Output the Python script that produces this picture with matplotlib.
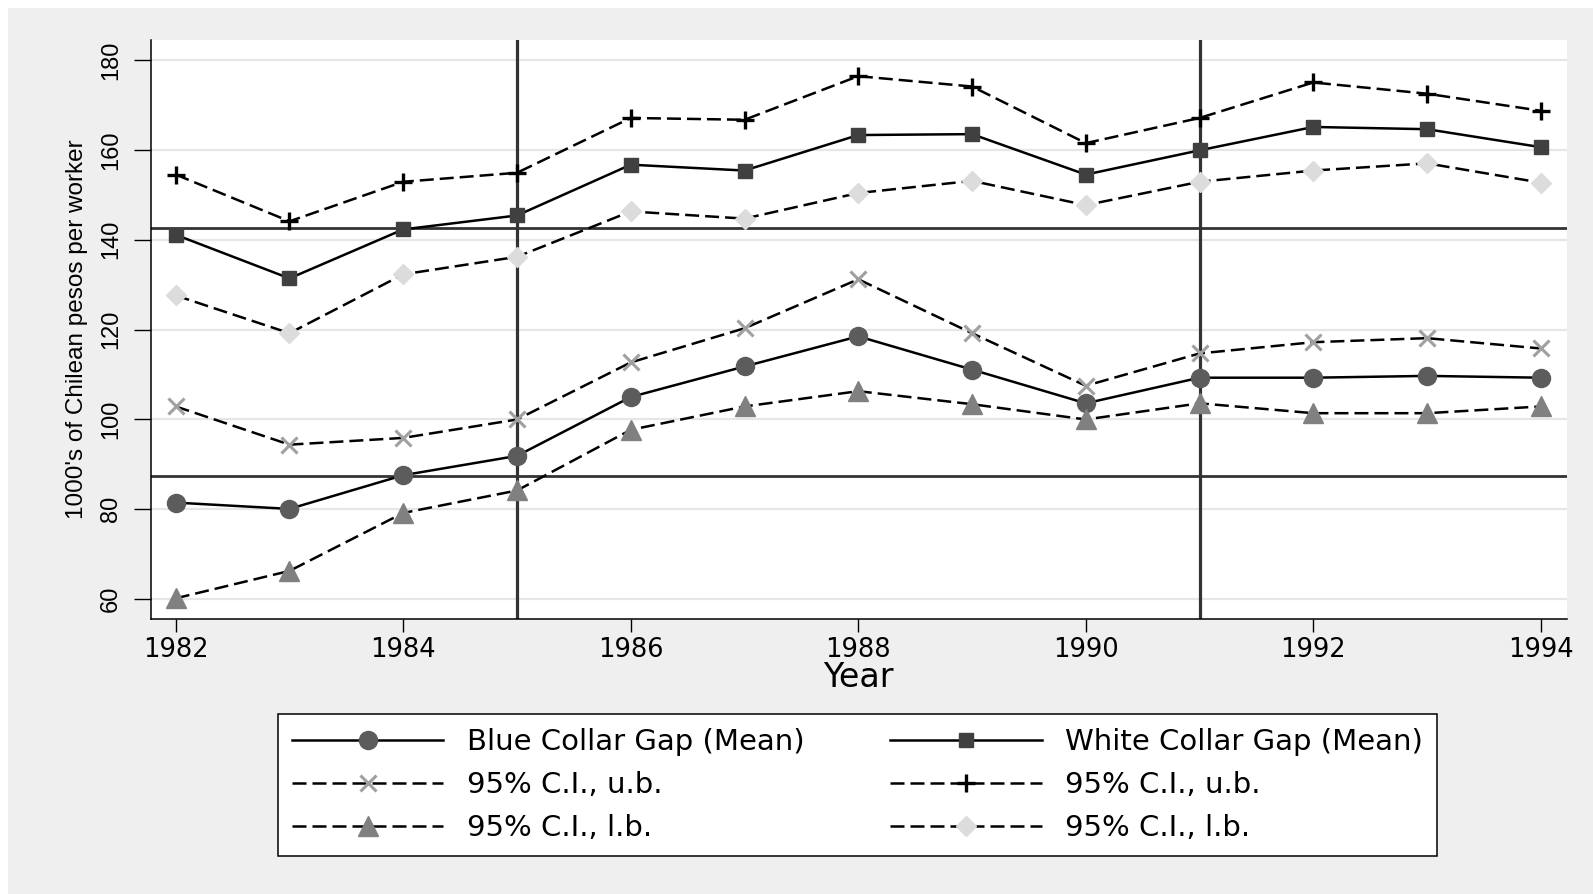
import matplotlib
matplotlib.use("Agg")
import matplotlib.pyplot as plt
from matplotlib.patches import Rectangle

years = [1982, 1983, 1984, 1985, 1986, 1987, 1988, 1989, 1990, 1991, 1992, 1993, 1994]
bc_mean = [81.5, 80.1, 87.6, 91.9, 105.0, 111.8, 118.5, 111.1, 103.6, 109.3, 109.3, 109.7, 109.3]
bc_ub = [102.9, 94.4, 95.9, 100.0, 112.7, 120.3, 131.2, 119.2, 107.5, 114.7, 117.2, 118.1, 115.8]
bc_lb = [60.2, 66.3, 79.2, 84.2, 97.7, 102.9, 106.3, 103.4, 100.0, 103.6, 101.4, 101.4, 102.9]
wc_mean = [141.1, 131.4, 142.3, 145.4, 156.7, 155.4, 163.3, 163.5, 154.5, 159.9, 165.1, 164.6, 160.6]
wc_ub = [154.5, 144.1, 152.9, 154.9, 167.1, 166.7, 176.4, 174.1, 161.5, 167.1, 175.0, 172.5, 168.7]
wc_lb = [127.6, 119.2, 132.3, 136.2, 146.3, 144.7, 150.4, 153.1, 147.7, 152.9, 155.4, 157.0, 152.7]
hlines = [142.6, 87.5]
vlines = [1985, 1991]
xticks = [1982, 1984, 1986, 1988, 1990, 1992, 1994]
yticks = [60, 80, 100, 120, 140, 160, 180]
labels = ["Blue Collar Gap (Mean)", "95% C.I., u.b.", "95% C.I., l.b.",
          "White Collar Gap (Mean)", "95% C.I., u.b.", "95% C.I., l.b."]

W, H = 1593, 894
fig = plt.figure(figsize=(W / 100, H / 100), dpi=100, facecolor="white")
fig.patches.append(Rectangle((8 / W, 0), 1 - 8 / W, 1 - 8 / H, transform=fig.transFigure,
                             facecolor="#efefef", edgecolor="none", zorder=-10))

ax = fig.add_axes([150.7 / W, 1 - 619 / H, (1567 - 150.7) / W, (619 - 40) / H])
ax.set_facecolor("white")

for y in yticks:
    ax.axhline(y, color="#e6e6e6", lw=1.6, zorder=0.5)
for y in hlines:
    ax.axhline(y, color="#333333", lw=2.0, zorder=1.5)
for x in vlines:
    ax.axvline(x, color="#333333", lw=2.3, zorder=1.5)

dash = (0, (5.6, 2.4))
lw = 1.8
h1, = ax.plot(years, bc_mean, color="black", lw=lw, marker="o", ms=13, mfc="#5c5c5c", mec="#5c5c5c", zorder=3)
h2, = ax.plot(years, bc_ub, color="black", lw=lw, ls=dash, marker="x", ms=11, mew=2.2, mec="#a0a0a0", zorder=3)
h3, = ax.plot(years, bc_lb, color="black", lw=lw, ls=dash, marker="^", ms=15, mfc="#808080", mec="#808080", zorder=3)
h4, = ax.plot(years, wc_mean, color="black", lw=lw, marker="s", ms=10.5, mfc="#404040", mec="#404040", zorder=3)
h5, = ax.plot(years, wc_ub, color="black", lw=lw, ls=dash, marker="+", ms=13, mew=2.4, mec="black", zorder=3)
h6, = ax.plot(years, wc_lb, color="black", lw=lw, ls=dash, marker="D", ms=10, mfc="#dcdcdc", mec="#dcdcdc", zorder=3)

ax.set_xlim(1981.78, 1994.23)
ax.set_ylim(55.6, 184.45)
ax.set_xticks(xticks)
ax.set_yticks(yticks)
ax.tick_params(axis="x", direction="out", length=9, width=1.0, pad=4.3, color="black",
               labelsize=18.5, labelfontfamily="DejaVu Sans")
ax.tick_params(axis="y", direction="out", length=12.2, width=1.0, pad=8.4, color="black",
               labelsize=17, labelfontfamily="Liberation Sans", labelrotation=90)
for lab in ax.get_yticklabels():
    lab.set_verticalalignment("center")

for s in ["top", "right"]:
    ax.spines[s].set_visible(False)
for s in ["left", "bottom"]:
    ax.spines[s].set_linewidth(1.1)
    ax.spines[s].set_color("black")

ax.set_xlabel("Year", fontfamily="DejaVu Sans", fontsize=24)
ax.xaxis.set_label_coords(0.5, -0.0725)
ax.set_ylabel("1000's of Chilean pesos per worker", fontfamily="Liberation Sans", fontsize=17.5)
ax.yaxis.set_label_coords(-0.0443, 0.5)

leg = fig.legend([h1, h2, h3, h4, h5, h6], labels, ncol=2, loc="center",
                 bbox_to_anchor=(278 / W, 1 - 857 / H, (1437 - 278) / W, (857 - 713) / H),
                 mode="expand", borderaxespad=0, prop={"family": "DejaVu Sans", "size": 21},
                 handlelength=5.2, handletextpad=0.82, labelspacing=0.52, borderpad=0.47,
                 numpoints=1, fancybox=False, frameon=True, edgecolor="black", facecolor="white",
                 framealpha=1)
leg.get_frame().set_linewidth(1.1)

fig.savefig("out.png", dpi=100, facecolor=fig.get_facecolor())
